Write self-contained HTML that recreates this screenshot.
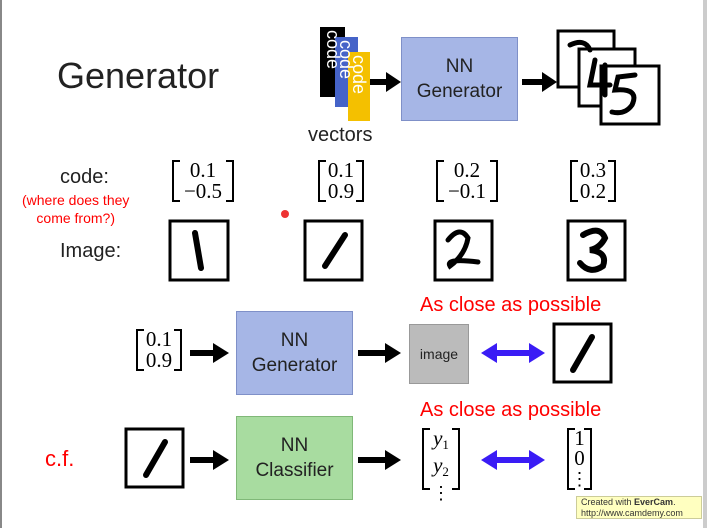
<!DOCTYPE html>
<html><head><meta charset="utf-8"><style>
body{margin:0;width:707px;height:528px;background:#fff;position:relative;overflow:hidden;font-family:"Liberation Sans",sans-serif;}
.a{position:absolute;}
.box{position:absolute;box-sizing:border-box;text-align:center;color:#222;font-size:19px;line-height:25px;display:flex;align-items:center;justify-content:center;}
.m{position:absolute;font-family:"Liberation Serif",serif;font-size:21px;line-height:21px;text-align:center;box-sizing:border-box;}
.m::before,.m::after{content:"";position:absolute;top:0;bottom:0;width:6px;border:2px solid #000;}
.m::before{left:0;border-right:none;}
.m::after{right:0;border-left:none;}
.red{color:#f00;}
</style></head><body>
<div class="a" style="left:0;top:0;width:2px;height:528px;background:#888"></div>
<div class="a" style="left:703px;top:0;width:4px;height:528px;background:#ccc"></div>
<div class="a" style="left:57px;top:55px;font-size:36px;color:#222">Generator</div>
<div class="a" style="left:320px;top:27px;width:25px;height:70px;background:#000"></div>
<div class="a" style="left:335px;top:37px;width:23px;height:70px;background:#4563c8"></div>
<div class="a" style="left:348px;top:52px;width:22px;height:69px;background:#f4c000"></div>
<div class="a" style="color:#fff;font-size:18px;transform:rotate(90deg);transform-origin:0 0;left:343px;top:30px">code</div>
<div class="a" style="color:#fff;font-size:18px;transform:rotate(90deg);transform-origin:0 0;left:356px;top:40px">code</div>
<div class="a" style="color:#fff;font-size:18px;transform:rotate(90deg);transform-origin:0 0;left:369px;top:55px">code</div>
<div class="a" style="left:308px;top:124px;font-size:20px;color:#222">vectors</div>
<div class="box" style="left:401px;top:37px;width:117px;height:84px;background:#a6b6e6;border:1px solid #7f90c8">NN<br>Generator</div>
<svg class="a" style="left:0;top:0" width="707" height="528">
<g fill="#000">
<rect x="370" y="79" width="16" height="6"/><path d="M386,72L401,82L386,92z"/>
<rect x="522" y="79" width="20" height="6"/><path d="M542,72L557,82L542,92z"/>
<rect x="190" y="350" width="24" height="6"/><path d="M213,343L229,353L213,363z"/>
<rect x="358" y="350" width="28" height="6"/><path d="M385,343L401,353L385,363z"/>
<rect x="190" y="457" width="24" height="6"/><path d="M213,450L229,460L213,470z"/>
<rect x="358" y="457" width="28" height="6"/><path d="M385,450L401,460L385,470z"/>
</g>
<g fill="#3a1cf5">
<rect x="495" y="350" width="36" height="6"/><path d="M481,353L497,343L497,363z"/><path d="M545,353L529,343L529,363z"/>
<rect x="495" y="457" width="36" height="6"/><path d="M481,460L497,450L497,470z"/><path d="M545,460L529,450L529,470z"/>
</g>
<g fill="#fff" stroke="#000" stroke-width="3">
<rect x="558" y="31" width="56" height="56"/><rect x="579" y="49" width="56" height="57"/><rect x="601" y="66" width="58" height="58"/>
<rect x="170" y="221" width="58" height="59"/><rect x="305" y="221" width="57" height="59"/><rect x="435" y="221" width="57" height="59"/><rect x="568" y="221" width="57" height="59"/>
<rect x="554" y="324" width="57" height="58"/><rect x="126" y="429" width="57" height="58"/>
</g>
<g fill="none" stroke="#000" stroke-linecap="round">
<path d="M570,45Q585,38 590,50" stroke-width="5"/>
<path d="M595,60L590,85L610,85M605,65L605,95" stroke-width="5"/>
<path d="M635,75L618,77L615,90Q640,88 632,105Q625,115 612,112" stroke-width="5"/>
<path d="M195,233L201,268" stroke-width="6"/>
<path d="M345,235L325,266" stroke-width="6"/>
<path d="M448,240Q460,225 468,238Q465,255 450,266Q445,258 478,262" stroke-width="5"/>
<path d="M583,235Q600,225 605,238Q600,248 590,250Q608,252 603,266Q590,275 580,263" stroke-width="6"/>
<path d="M592,337L573,370" stroke-width="6"/>
<path d="M165,442L146,475" stroke-width="6"/>
</g>
<circle cx="285" cy="214" r="4" fill="#e33"/>
</svg>
<div class="a" style="left:60px;top:166px;font-size:20px;color:#222">code:</div>
<div class="a red" style="left:22px;top:191px;font-size:14px;line-height:18px;text-align:center">(where does they<br>come from?)</div>
<div class="a" style="left:60px;top:240px;font-size:20px;color:#222">Image:</div>
<div class="m" style="left:172px;top:160px;width:62px;height:42px">0.1<br>−0.5</div>
<div class="m" style="left:318px;top:160px;width:46px;height:42px">0.1<br>0.9</div>
<div class="m" style="left:436px;top:160px;width:62px;height:42px">0.2<br>−0.1</div>
<div class="m" style="left:570px;top:160px;width:46px;height:42px">0.3<br>0.2</div>
<div class="m" style="left:136px;top:329px;width:46px;height:42px">0.1<br>0.9</div>
<div class="box" style="left:236px;top:311px;width:117px;height:84px;background:#a6b6e6;border:1px solid #7f90c8">NN<br>Generator</div>
<div class="box" style="left:409px;top:324px;width:60px;height:60px;background:#bbb;border:1px solid #999;font-size:14px">image</div>
<div class="a red" style="left:420px;top:294px;font-size:20px">As close as possible</div>
<div class="a red" style="left:420px;top:399px;font-size:20px">As close as possible</div>
<div class="a red" style="left:45px;top:446px;font-size:22px">c.f.</div>
<div class="box" style="left:236px;top:416px;width:117px;height:84px;background:#a8dca0;border:1px solid #80b878">NN<br>Classifier</div>
<div class="m" style="left:422px;top:428px;width:38px;height:62px;font-style:italic;line-height:20px">y<span style="font-size:13px;font-style:normal;vertical-align:-4px">1</span><br>y<span style="font-size:13px;font-style:normal;vertical-align:-4px">2</span><br><span style="font-style:normal;font-size:18px">⋮</span></div>
<div class="m" style="left:567px;top:428px;width:25px;height:62px;line-height:20px">1<br>0<br><span style="font-size:18px">⋮</span></div>
<div class="a" style="left:576px;top:496px;width:126px;height:23px;background:#ffffc0;border:1px solid #cc9;font-size:9px;line-height:11px;color:#333;padding-left:4px;box-sizing:border-box">Created with <b>EverCam</b>.<br>http://www.camdemy.com</div>
</body></html>
